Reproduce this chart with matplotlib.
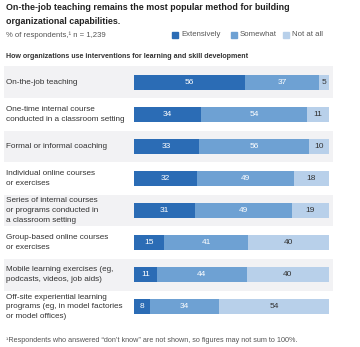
import matplotlib.pyplot as plt
import numpy as np

plt.rcParams["font.family"] = ["Liberation Sans", "DejaVu Sans"]

categories = ["On-the-job teaching",
              "One-time internal course\nconducted in a classroom setting",
              "Formal or informal coaching",
              "Individual online courses\nor exercises",
              "Series of internal courses\nor programs conducted in\na classroom setting",
              "Group-based online courses\nor exercises",
              "Mobile learning exercises (eg,\npodcasts, videos, job aids)",
              "Off-site experiential learning\nprograms (eg, in model factories\nor model offices)"]
extensively = [56, 34, 33, 32, 31, 15, 11, 8]
somewhat = [37, 54, 56, 49, 49, 41, 44, 34]
not_at_all = [5, 11, 10, 18, 19, 40, 40, 54]
series_names = ["Extensively", "Somewhat", "Not at all"]

colors = ["#2b6cb5", "#6ea1d3", "#b8d0ea"]
text_colors = ["white", "white", "#333333"]
band = "#f2f2f4"

W, H = 360, 347
fig = plt.figure(figsize=(W / 100, H / 100), dpi=100)

# pixel layout
ax_l, ax_r = 4, 333
ax_t, ax_b = 66, 323
bar_l, bar_r = 134, 329
scale = 100 / (bar_r - bar_l)
xmin = -(bar_l - ax_l) * scale
xmax = 100 + (ax_r - bar_r) * scale

ax = fig.add_axes([ax_l / W, 1 - ax_b / H, (ax_r - ax_l) / W, (ax_b - ax_t) / H])
ax.set_xlim(xmin, xmax)
ax.set_ylim(len(categories) - 0.5, -0.5)
ax.axis("off")

data = np.array([extensively, somewhat, not_at_all], dtype=float)
totals = data.sum(axis=0)
y = np.arange(len(categories))

for i in y:
    if i % 2 == 0:
        ax.axhspan(i - 0.49, i + 0.49, color=band, zorder=0, lw=0)

left = np.zeros(len(categories))
for k in range(3):
    widths = data[k] / totals * 100
    ax.barh(y, widths, left=left, height=0.47, color=colors[k], zorder=2, lw=0)
    for i in y:
        ax.text(left[i] + widths[i] / 2, i, f"{int(data[k][i])}", ha="center",
                va="center", fontsize=6, color=text_colors[k], zorder=3)
    left += widths

for i, c in enumerate(categories):
    ax.text(xmin + 1.1, i, c, ha="left", va="center",
            fontsize=5.9, color="#333333", linespacing=1.55)

# header texts
fig.text(6 / W, 1 - 3.5 / H, "On-the-job teaching remains the most popular method for building\norganizational capabilities.",
         ha="left", va="top", fontsize=6.4, fontweight="bold", color="#222222",
         linespacing=1.6)
fig.text(6 / W, 1 - 35 / H, "% of respondents,\u00b9 n = 1,239", ha="left",
         va="center", fontsize=5.6, color="#555555")
leg_x = [172, 231, 283]
for k in range(3):
    fig.patches.append(plt.Rectangle((leg_x[k] / W, 1 - 38 / H), 6 / W, 6 / H,
                                     transform=fig.transFigure, color=colors[k]))
    fig.text((leg_x[k] + 9) / W, 1 - 35 / H, series_names[k], ha="left",
             va="center", fontsize=5.6, color="#555555")
fig.text(6 / W, 1 - 57 / H,
         "How organizations use interventions for learning and skill development",
         ha="left", va="center", fontsize=5.1, fontweight="bold", color="#333333")
fig.text(6 / W, 1 - 340 / H,
         "\u00b9Respondents who answered \u201cdon\u2019t know\u201d are not shown, so figures may not sum to 100%.",
         ha="left", va="center", fontsize=5.2, color="#555555")

fig.savefig("out.png", dpi=100, facecolor="white")
